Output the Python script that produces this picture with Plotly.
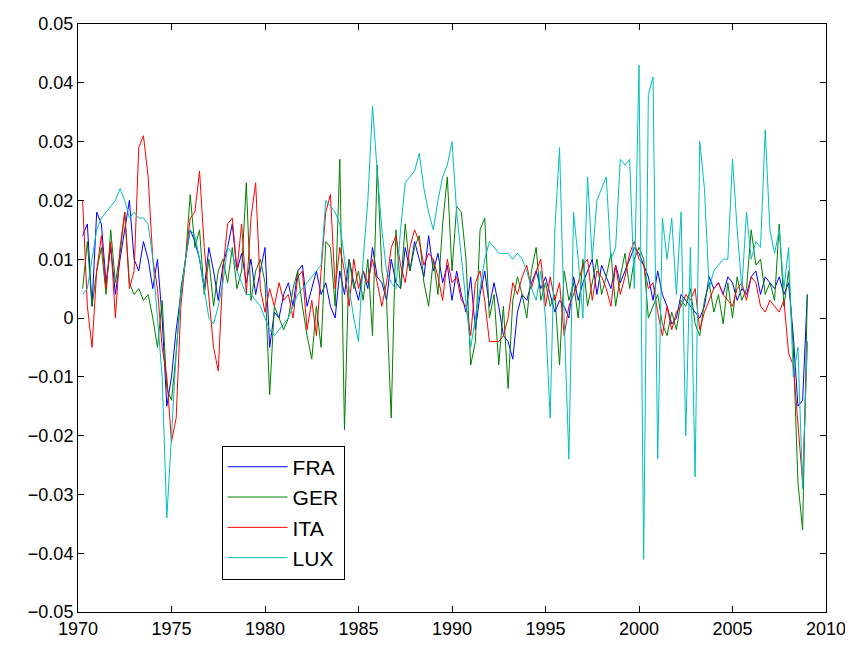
import numpy as np
import plotly.graph_objects as go

start_year = 1970.25
FRA = [.014,.016,.002,.018, .016,.006,.012,.004, .010,.015,.020,.010, .008,.013,.010,.005,
       .010,.000,-.015,-.010, -.002,.004,.010,.015, .013,.010,.005,.012, .008,.003,.009,.012,
       .016,.008,.011,.006, .010,.004,.008,.012, -.005,.001,.000,.004, .006,.002,.008,.009,
       .002,.005,.008,.004, .006,.002,.000,.008, .004,.010,.006,.003, .008,.005,.012,.007,
       .006,.003,.010,.006, .005,.012,.008,.013, .010,.007,.014,.008, .011,.006,.009,.003,
       .008,.004,.001,.007, -.002,.004,.008,.002, .006,.002,-.003,-.004, -.007,.001,.004,.003,
       .006,.008,.005,.007, .004,.001,.003,.002, .000,.007,.003,.006, .008,.010,.004,.009,
       .007,.005,.009,.006, .008,.010,.012,.011, .009,.007,.003,.008, .004,.002,-.001,.000,
       .004,.003,.002,.001, .000,.002,.007,.005, .006,.004,.007,.006, .003,.005,.004,.007,
       .008,.004,.007,.006, .005,.007,.004,.006, -.003,-.015,-.014,.004]
GER = [.005,.013,.002,.008, .012,.004,.015,.006, .011,.018,.006,.004, .005,.003,.004,.000,
       -.005,.003,-.012,-.014, -.006,.005,.010,.021, .012,.015,.004,.010, .002,.008,.010,.006,
       .012,.005,.008,.023, .003,.008,.010,.006, -.013,.002,.000,-.002, .000,.005,.008,.002,
       -.003,-.007,.002,-.005, .013,.012,.002,.027, -.019,.010,.005,.008, .003,.010,-.003,.026,
       .008,.003,-.017,.015, .005,.016,.008,.012, .014,.006,.002,.010, .004,.016,.024,.008,
       .019,.018,.010,-.008, -.004,.015,.017,.000, .004,-.008,.002,-.012, .003,.007,.004,.000,
       .008,.012,.003,.006, .002,.004,-.008,.008, .003,.006,.000,.010, .002,.006,.010,.004,
       .007,.011,.002,.007, .011,.005,.010,.012, .010,.000,.002,.004, -.001,-.003,.001,-.002,
       .003,.002,.005,-.001, -.003,.003,.006,.001, .004,-.001,.006,.000, .007,.003,.005,.015,
       .009,.010,.004,.006, .003,.016,.002,.008, -.005,-.028,-.036,.004]
ITA = [.020,.002,-.005,.008, .014,.005,.013,.000, .012,.018,.005,.008, .029,.031,.024,.010,
       .005,-.005,-.010,-.021, -.017,.002,.010,.017, .018,.025,.012,.004, -.005,-.009,.008,.016,
       .017,.008,.016,.004, .017,.023,.005,.001, .005,.002,.006,.003, .004,.000,.007,.008,
       -.002,.003,-.003,.008, .018,.021,.005,.012, .008,.002,.010,.005, .008,.006,.010,.006,
       .002,.006,.012,.014, .009,.006,.012,.015, .013,.009,.011,.010, .007,.003,.010,.006,
       .007,.003,.002,-.003, .006,.008,.003,-.004, -.004,-.004,-.003,.000, .006,.004,.007,.009,
       .005,.008,.010,.002, .007,.003,.006,-.003, .002,.004,.006,.009, .010,.003,.008,.007,
       .005,.002,.009,.004, .007,.011,.013,.010, .009,.005,.006,.001, -.003,.002,-.002,.001,
       .002,.004,.003,.005, -.002,.001,.003,.005, .006,.004,.003,.002, .005,.006,.003,.007,
       .006,.002,.001,.003, .002,.001,.003,-.006, -.008,-.018,-.028,-.004]
LUX = [.004,.005,.010,.015, .017,.018,.019,.020, .022,.020,.017,.018, .017,.017,.016,.010,
       .000,-.010,-.034,-.020, -.006,.004,.010,.015, .014,.010,.005,.000, -.001,.002,.006,.012,
       .011,.008,.006,.004, .004,.003,.002,.000, -.002,-.003,-.002,-.001, .000,.002,.004,.005,
       .006,.007,.008,.009, .020,.019,.018,.016, .010,.005,.000,-.004, .010,.020,.036,.025,
       .015,.008,.006,.005, .015,.023,.024,.025, .028,.022,.018,.015, .020,.024,.026,.030,
       .018,.010,.003,-.005, .000,.005,.010,.013, .012,.011,.011,.011, .010,.011,.010,.008,
       .005,.003,.008,.000, -.017,.015,.029,.000, -.024,.018,.010,.000, .024,.010,.020,.022,
       .024,.010,.012,.027, .026,.027,.005,.043, -.041,.038,.041,-.024, .017,.010,.017,.004,
       .018,-.020,.012,-.027, .030,.022,.005,.008, .009,.010,.010,.027, .015,.005,.018,.010,
       .013,.012,.032,.015, .011,.015,.005,.012, -.010,-.005,-.029,-.004]

x = start_year + 0.25*np.arange(len(FRA))
fig = go.Figure()
for name, ys, c in [("FRA", FRA, "#0000ff"), ("GER", GER, "#008000"),
                    ("ITA", ITA, "#ff0000"), ("LUX", LUX, "#00bfbf")]:
    fig.add_trace(go.Scatter(x=x, y=ys, name=name, mode="lines",
                             line=dict(color=c, width=1)))
ax = dict(showgrid=False, zeroline=False, showline=True, mirror="ticks",
          linecolor="black", linewidth=1, ticks="inside", ticklen=6, tickcolor="black",
          automargin=False)
fig.update_xaxes(range=[1970, 2010], dtick=5, **ax)
fig.update_yaxes(range=[-0.05, 0.05], dtick=0.01, tickformat="~g", **ax)
fig.update_layout(width=853, height=646, plot_bgcolor="white", paper_bgcolor="white",
                  margin=dict(l=70, r=35, t=16, b=42, autoexpand=False),
                  font=dict(family="Liberation Sans, Arial", size=18, color="black"),
                  legend=dict(x=0.192, y=0.283, xanchor="left", yanchor="top",
                              bordercolor="black", borderwidth=1, bgcolor="white",
                              itemwidth=60, font=dict(size=21)))
fig.write_html("out.html")
